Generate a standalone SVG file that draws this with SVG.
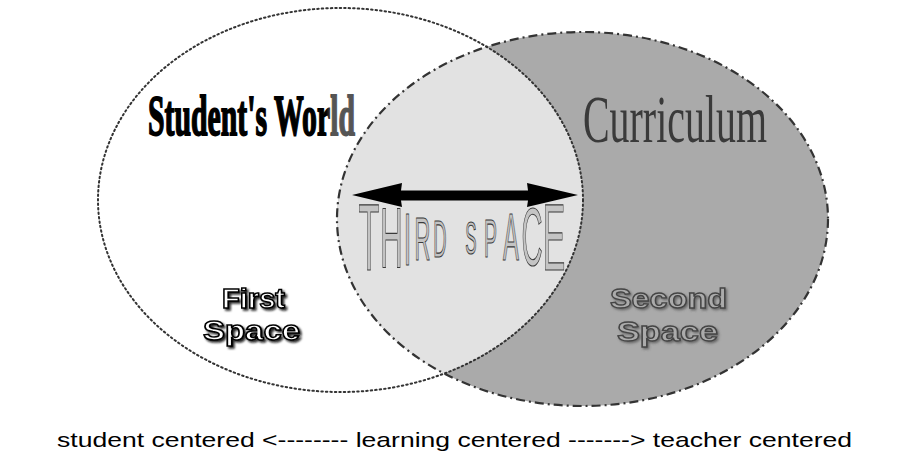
<svg xmlns="http://www.w3.org/2000/svg" width="918" height="466" viewBox="0 0 918 466">
<style>
.third{font-family:"Liberation Sans",Arial,sans-serif;fill:#c4c4c4;stroke:#3a3a3a;stroke-width:1.2}
.sp{font-family:"Liberation Sans",Arial,sans-serif;font-weight:bold;font-size:28px}
</style>
<defs>
<clipPath id="clipR"><ellipse cx="582.5" cy="219" rx="245.5" ry="187"/></clipPath>
<filter id="shadowDark" x="-20%" y="-30%" width="140%" height="160%">
<feDropShadow dx="2" dy="2" stdDeviation="1.3" flood-color="#111" flood-opacity="0.9"/>
</filter>
<filter id="shadowGray" x="-20%" y="-30%" width="140%" height="160%">
<feDropShadow dx="1.5" dy="1.5" stdDeviation="1.3" flood-color="#555" flood-opacity="0.8"/>
</filter>
<linearGradient id="worldFill" gradientUnits="userSpaceOnUse" x1="326" y1="0" x2="332" y2="0">
<stop offset="0" stop-color="#000"/>
<stop offset="1" stop-color="#555"/>
</linearGradient>
</defs>
<rect width="918" height="466" fill="#ffffff"/>
<g id="second-space-ellipse">
<ellipse cx="582.5" cy="219" rx="245.5" ry="187" fill="#aaaaaa"/>
</g>
<g id="third-space-area">
<ellipse cx="340.5" cy="200" rx="242.5" ry="192" fill="#e2e2e2" clip-path="url(#clipR)"/>
</g>
<g id="outlines" fill="none">
<ellipse cx="340.5" cy="200" rx="242.5" ry="192" stroke="#333" stroke-width="2" stroke-dasharray="1.5 3" stroke-linecap="round"/>
<ellipse cx="582.5" cy="219" rx="245.5" ry="187" stroke="#333" stroke-width="2.2" stroke-dasharray="9 4 2 4"/>
</g>
<g id="students-world">
<text x="148" y="135" font-family="'Liberation Serif','Times New Roman',serif" font-weight="bold" font-size="58" textLength="207" lengthAdjust="spacingAndGlyphs" fill="url(#worldFill)" stroke="url(#worldFill)" stroke-width="1.8">Student's World</text>
</g>
<g id="curriculum">
<text x="583" y="142" font-family="'Liberation Serif','Times New Roman',serif" font-size="68" textLength="184" lengthAdjust="spacingAndGlyphs" fill="#3a3a3a">Curriculum</text>
</g>
<g id="connectors">
<polygon points="352,195 402,183 401,190.5 528,190.5 527,183 578,195 527,207 528,200.5 401,200.5 402,207" fill="#000"/>
</g>
<g id="third-space">
<text class="third" transform="scale(0.36,1)" text-anchor="middle" vector-effect="non-scaling-stroke"><tspan x="1025" y="270" font-size="95">T</tspan><tspan x="1087.5" y="267" font-size="86">H</tspan><tspan x="1131.9" y="265" font-size="75">I</tspan><tspan x="1173.6" y="260" font-size="61">R</tspan><tspan x="1222.2" y="257" font-size="51">D</tspan><tspan x="1308.3" y="254" font-size="47">S</tspan><tspan x="1362.5" y="257" font-size="54">P</tspan><tspan x="1419.4" y="260" font-size="66">A</tspan><tspan x="1477.8" y="265" font-size="81">C</tspan><tspan x="1538.9" y="270" font-size="95">E</tspan></text>
</g>
<g id="first-space" filter="url(#shadowDark)" fill="#fff" stroke="#000" stroke-width="1.5">
<text class="sp" x="222" y="308" textLength="63" lengthAdjust="spacingAndGlyphs">First</text>
<text class="sp" x="203" y="340" textLength="97" lengthAdjust="spacingAndGlyphs">Space</text>
</g>
<g id="second-space" filter="url(#shadowGray)" fill="#ababab" stroke="#444" stroke-width="1.3">
<text class="sp" x="610" y="308" textLength="117" lengthAdjust="spacingAndGlyphs">Second</text>
<text class="sp" x="617" y="341" textLength="101" lengthAdjust="spacingAndGlyphs">Space</text>
</g>
<g id="axis-label">
<text x="57" y="447" font-family="'Liberation Sans',Arial,sans-serif" font-size="21" textLength="795" lengthAdjust="spacingAndGlyphs" fill="#000">student centered &lt;-------- learning centered -------&gt; teacher centered</text>
</g>
</svg>
